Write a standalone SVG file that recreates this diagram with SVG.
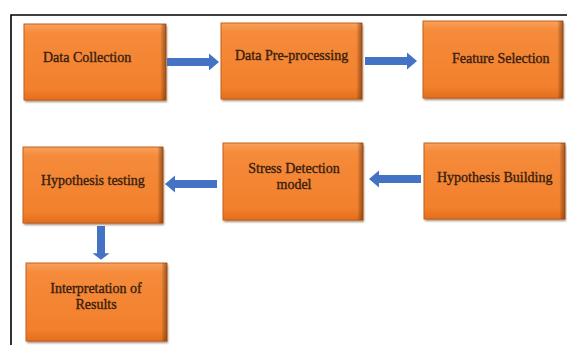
<svg xmlns="http://www.w3.org/2000/svg" width="567" height="345" viewBox="0 0 567 345">
  <defs>
    <linearGradient id="boxFill" x1="0" y1="0" x2="0" y2="1">
      <stop offset="0" stop-color="#F9A15A"/>
      <stop offset="0.12" stop-color="#F58B3B"/>
      <stop offset="0.85" stop-color="#F2802C"/>
      <stop offset="1" stop-color="#E36E1C"/>
    </linearGradient>
    <linearGradient id="sideShade" x1="0" y1="0" x2="1" y2="0">
      <stop offset="0" stop-color="#000" stop-opacity="0"/>
      <stop offset="0.96" stop-color="#000" stop-opacity="0"/>
      <stop offset="1" stop-color="#5a2a08" stop-opacity="0.5"/>
    </linearGradient>
    <filter id="soft" x="-10%" y="-10%" width="120%" height="130%">
      <feGaussianBlur stdDeviation="1.2"/>
    </filter>
    <g id="arrowR">
      <path d="M0,-4 H42 V-8.5 L52,0 L42,8.5 V4 H0 Z"/>
    </g>
  </defs>
  <style>
    .frame { stroke: #000; stroke-width: 1.6; fill: none; }
    .shadow { fill: #6b3a1a; opacity: 0.6; filter: url(#soft); }
    .box { fill: url(#boxFill); stroke: #C2601C; stroke-width: 1; }
    .edge { fill: url(#sideShade); }
    .lbl { font-family: "Liberation Serif", "Times New Roman", serif; font-size: 14px; fill: #38200f; stroke: #38200f; stroke-width: 0.35; }
    .mid { text-anchor: middle; }
    .arrow { fill: #4472C4; }
  </style>

  <!-- page frame -->
  <path class="frame" d="M11,345 V15 H567"/>

  <g id="node-data-collection">
    <rect class="shadow" x="25" y="26" width="142" height="76"/>
    <rect class="box" x="24" y="24" width="142" height="76"/>
    <rect class="edge" x="24" y="24" width="142" height="76"/>
    <text class="lbl" x="43" y="62">Data Collection</text>
  </g>

  <g id="node-data-preprocessing">
    <rect class="shadow" x="222" y="25" width="141" height="76"/>
    <rect class="box" x="221" y="23" width="141" height="76"/>
    <rect class="edge" x="221" y="23" width="141" height="76"/>
    <text class="lbl" x="235" y="60">Data Pre-processing</text>
  </g>

  <g id="node-feature-selection">
    <rect class="shadow" x="424" y="23" width="140" height="77"/>
    <rect class="box" x="423" y="21" width="140" height="77"/>
    <rect class="edge" x="423" y="21" width="140" height="77"/>
    <text class="lbl" x="452" y="63">Feature Selection</text>
  </g>

  <g id="node-hypothesis-building">
    <rect class="shadow" x="425" y="145" width="141" height="76"/>
    <rect class="box" x="424" y="143" width="141" height="76"/>
    <rect class="edge" x="424" y="143" width="141" height="76"/>
    <text class="lbl" x="437" y="182">Hypothesis Building</text>
  </g>

  <g id="node-stress-detection">
    <rect class="shadow" x="224" y="145" width="140" height="77"/>
    <rect class="box" x="223" y="143" width="140" height="77"/>
    <rect class="edge" x="223" y="143" width="140" height="77"/>
    <text class="lbl mid" x="294" y="173">Stress Detection</text>
    <text class="lbl mid" x="294" y="189">model</text>
  </g>

  <g id="node-hypothesis-testing">
    <rect class="shadow" x="24" y="149" width="140" height="76"/>
    <rect class="box" x="23" y="147" width="140" height="76"/>
    <rect class="edge" x="23" y="147" width="140" height="76"/>
    <text class="lbl" x="41" y="185">Hypothesis testing</text>
  </g>

  <g id="node-interpretation">
    <rect class="shadow" x="27" y="265" width="141" height="78"/>
    <rect class="box" x="26" y="263" width="141" height="78"/>
    <rect class="edge" x="26" y="263" width="141" height="78"/>
    <text class="lbl mid" x="96" y="293">Interpretation of</text>
    <text class="lbl mid" x="96" y="309">Results</text>
  </g>

  <g id="connectors" class="arrow">
    <use href="#arrowR" transform="translate(167,62)"/>
    <use href="#arrowR" transform="translate(365,61)"/>
    <use href="#arrowR" transform="translate(421,179) scale(-1,1)"/>
    <use href="#arrowR" transform="translate(217,184) scale(-1,1)"/>
    <use href="#arrowR" transform="translate(101,226) rotate(90) scale(0.65,1)"/>
  </g>
</svg>
